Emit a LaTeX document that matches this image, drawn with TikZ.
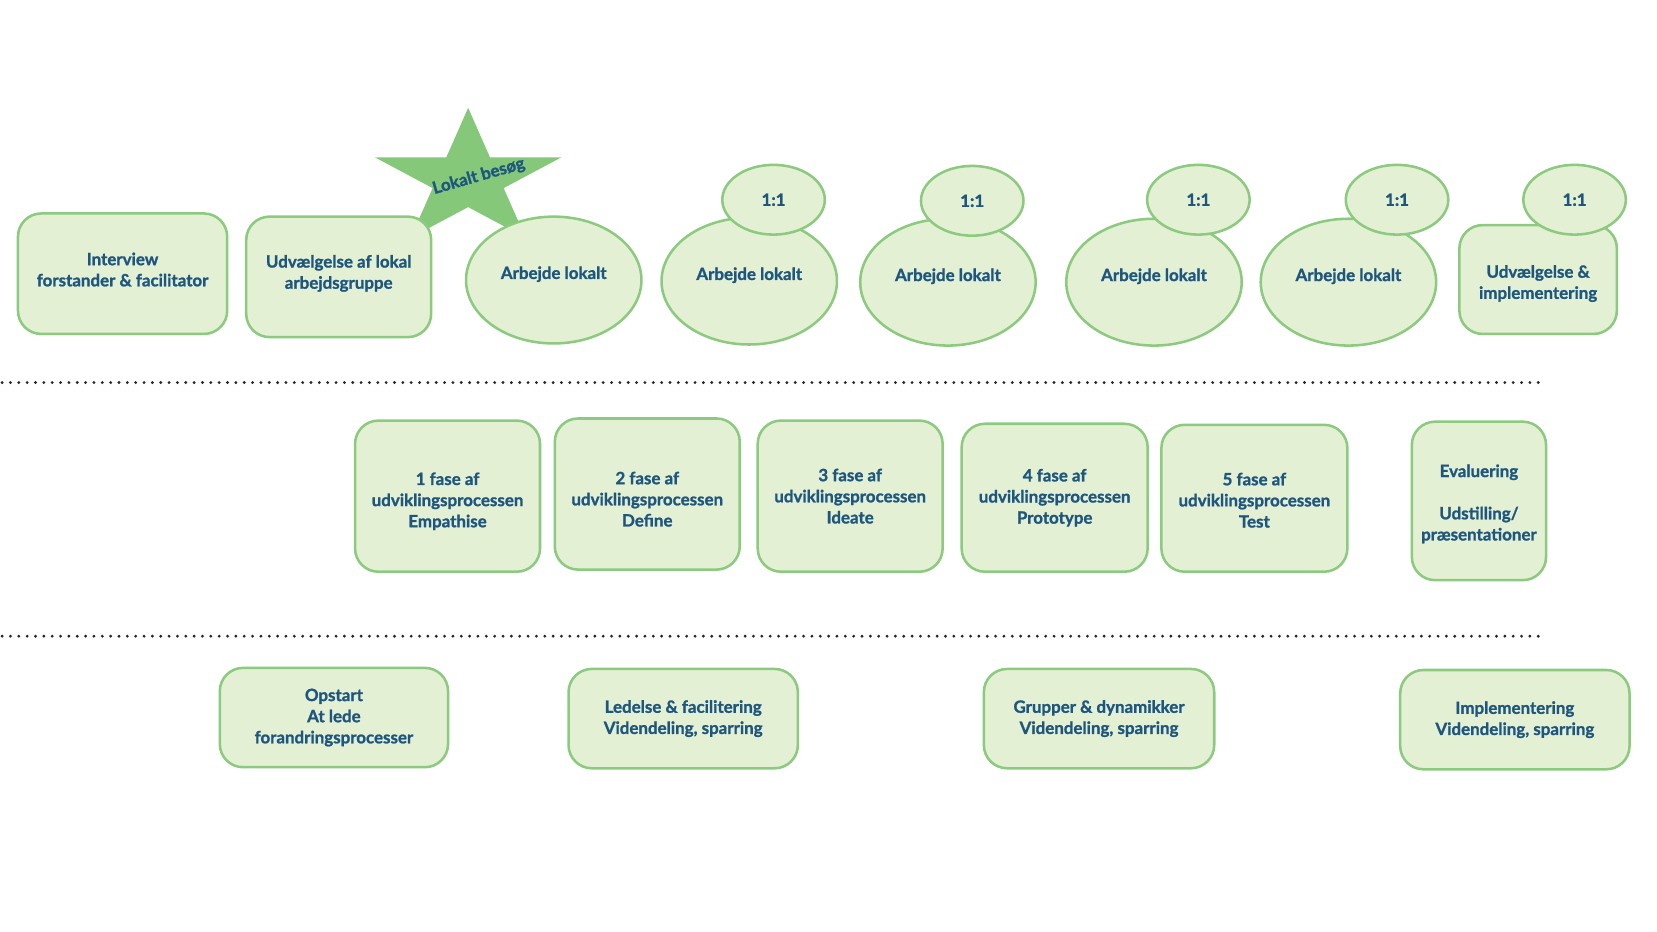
\documentclass[tikz,border=0pt]{standalone}
\usepackage{fontspec}
\setmainfont{Lato}[BoldFeatures={FakeBold=1.2}]
\usetikzlibrary{shapes.geometric}
\definecolor{fillg}{RGB}{227,240,212}
\definecolor{lineg}{RGB}{140,202,128}
\definecolor{starg}{RGB}{134,200,122}
\definecolor{txtb}{RGB}{30,86,126}
\newcommand\padtop[1]{\rule{0pt}{#1}}
\newcommand\padbot[1]{\rule[-#1]{0pt}{#1}}
\begin{document}
\begin{tikzpicture}[x=1pt,y=-1pt,
  every node/.style={font=\fontsize{16}{20}\selectfont\bfseries, text=txtb, align=center, inner sep=0pt},
  rbox/.style={draw=lineg, fill=fillg, line width=2.4pt, rounded corners=22pt},
  bigoval/.style={ellipse, draw=lineg, fill=fillg, line width=2.4pt, minimum width=166pt, minimum height=120pt},
  smalloval/.style={ellipse, draw=lineg, fill=fillg, line width=2.4pt, minimum width=97pt, minimum height=66pt},
  dotline/.style={line width=3pt, line cap=round, dash pattern=on 0pt off 7.9pt, black!85}
]
\useasboundingbox (0,0) rectangle (1568,881);

% star
\fill[starg] (443,102) -- (463.7,149) -- (531,149) -- (476.6,178) -- (497.4,225)
  -- (443,196) -- (388.6,225) -- (409.4,178) -- (355,149) -- (422.3,149) -- cycle;
\node[rotate=16] (star) at (453,167) {Lokalt besøg};

% top row
\node[rbox, minimum width=198pt, minimum height=114pt] (interview) at (116,259) {Interview\\forstander \& facilitator\padbot{8pt}};
\node[rbox, minimum width=175pt, minimum height=114pt] (udv) at (320.5,262) {Udvælgelse af lokal\\arbejdsgruppe\padbot{9.5pt}};
\node[bigoval] (e1) at (524,265) {\raisebox{14pt}{Arbejde lokalt}};
\node[bigoval] (e2) at (709,266) {\raisebox{14pt}{Arbejde lokalt}};
\node[smalloval] (s2) at (732,189) {1:1};
\node[bigoval] (e3) at (897,267) {\raisebox{14pt}{Arbejde lokalt}};
\node[smalloval] (s3) at (920,190) {1:1};
\node[bigoval] (e4) at (1092,267) {\raisebox{14pt}{Arbejde lokalt}};
\node[smalloval] (s4) at (1134,189) {1:1};
\node[bigoval] (e5) at (1276,267) {\raisebox{14pt}{Arbejde lokalt}};
\node[smalloval] (s5) at (1322,189) {1:1};
\node[rbox, minimum width=149pt, minimum height=103pt] (impl) at (1455.5,264.5) {\padtop{19.5pt}Udvælgelse \&\\implementering};
\node[smalloval] (s6) at (1490,189) {1:1};

% dotted separators
\coordinate (d1a) at (2,362);
\coordinate (d1b) at (1458,362);
\coordinate (d2a) at (2,602);
\coordinate (d2b) at (1458,602);
\draw[dotline] (d1a) -- (d1b);
\draw[dotline] (d2a) -- (d2b);

% middle row
\node[rbox, minimum width=175pt, minimum height=143pt] (f1) at (423.5,469.5) {\padtop{21.5pt}1 fase af\\udviklingsprocessen\\Empathise};
\node[rbox, minimum width=175pt, minimum height=143pt] (f2) at (612.5,467.5) {\padtop{21.5pt}2 fase af\\udviklingsprocessen\\Define};
\node[rbox, minimum width=175pt, minimum height=143pt] (f3) at (804.5,469.5) {3 fase af\\udviklingsprocessen\\Ideate};
\node[rbox, minimum width=176pt, minimum height=140pt] (f4) at (998,471) {4 fase af\\udviklingsprocessen\\Prototype};
\node[rbox, minimum width=176pt, minimum height=139pt] (f5) at (1187,471.5) {\padtop{15.5pt}5 fase af\\udviklingsprocessen\\Test};
\node[rbox, minimum width=127pt, minimum height=150pt] (ev) at (1399.5,474) {\padtop{17.5pt}Evaluering\\[20pt]Udstilling/\\præsentationer};

% bottom row
\node[rbox, minimum width=216pt, minimum height=94pt] (b1) at (316,679) {Opstart\\At lede\\forandringsprocesser};
\node[rbox, minimum width=217pt, minimum height=94pt] (b2) at (646.5,680) {Ledelse \& facilitering\\Videndeling, sparring};
\node[rbox, minimum width=218pt, minimum height=94pt] (b3) at (1040,680) {Grupper \& dynamikker\\Videndeling, sparring};
\node[rbox, minimum width=217pt, minimum height=94pt] (b4) at (1433.5,681) {Implementering\\Videndeling, sparring};
\end{tikzpicture}
\end{document}
